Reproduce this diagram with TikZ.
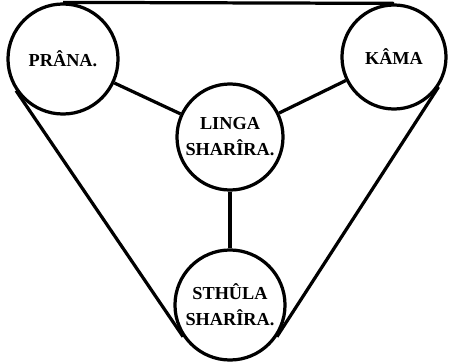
\documentclass[tikz,border=0pt]{standalone}
\usepackage{fontspec}
\setmainfont{Liberation Serif}
\usepackage{tikz}
\tikzset{%
  principle/.style={circle,draw,line width=2.3pt,inner sep=0pt,align=center},
  link/.style={line width=2.3pt}%
}

\begin{document}
\begin{tikzpicture}[
    x=0.025cm, y=-0.025cm,
    font=\bfseries\fontsize{13}{18.5}\selectfont
]
\useasboundingbox (0,0) rectangle (449,362);

% The four principles
\node[principle, minimum size=2.75cm] (prana) at (63,59) {PR\^ANA.};
\node[principle, minimum size=2.6cm] (kama) at (394,57) {K\^AMA};
\node[principle, minimum size=2.65cm] (linga) at (230,137) {LINGA\\SHAR\^IRA.};
\node[principle, minimum size=2.75cm] (sthula) at (230,305) {STH\^ULA\\SHAR\^IRA.};

% Inner links
\draw[link] (prana) -- (linga);
\draw[link] (kama) -- (linga);
\draw[link] (linga) -- (sthula);

% Outer envelope
\draw[link] (prana.90) -- (kama.90);
\draw[link] (prana.214) -- (sthula.214);
\draw[link] (kama.326) -- (sthula.326);

\end{tikzpicture}
\end{document}
